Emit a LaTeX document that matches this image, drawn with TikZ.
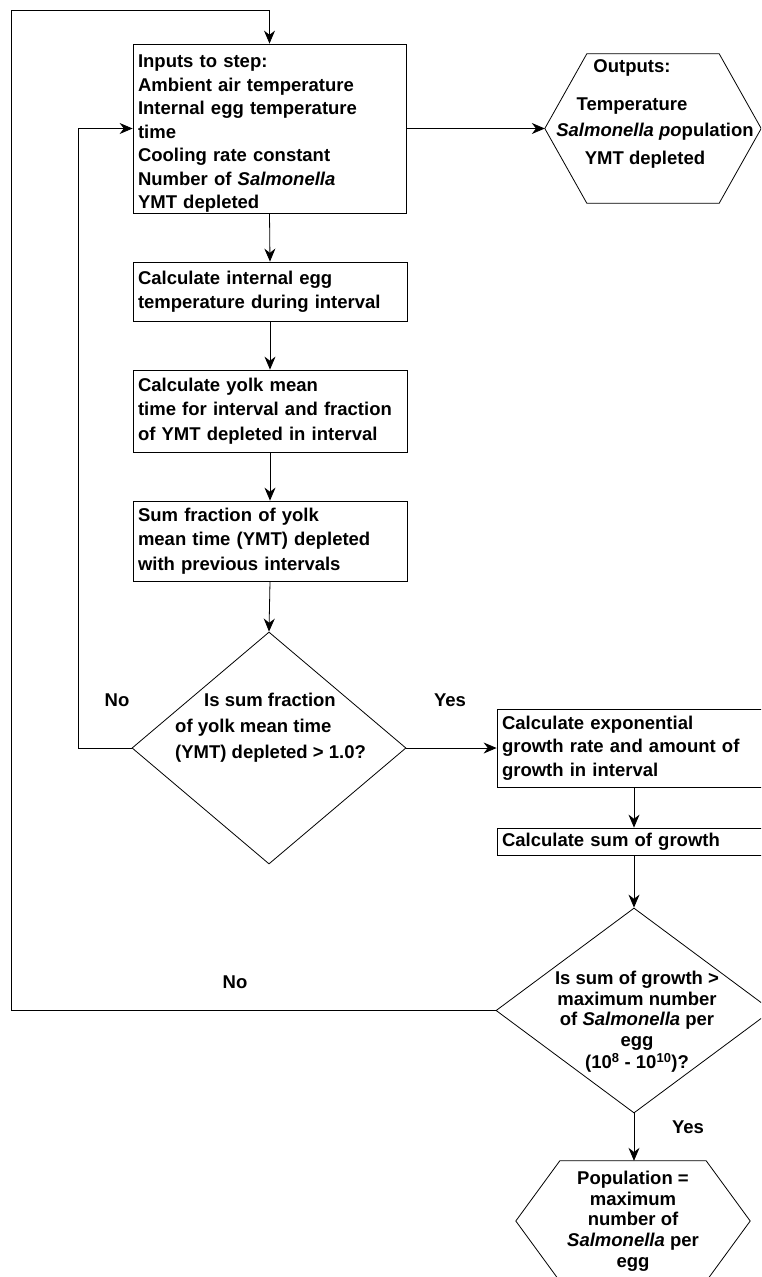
\documentclass[tikz,border=0pt]{standalone}
\usepackage{fontspec}
\setmainfont{Liberation Sans}
\usetikzlibrary{arrows.meta,shapes.geometric}
\begin{document}
\begin{tikzpicture}[x=1pt,y=-1pt,
  every node/.style={font=\fontsize{18.5}{23.5}\selectfont\bfseries, inner sep=0pt},
  stepbox/.style={draw, line width=0.8pt, inner xsep=5pt, align=left},
  decision/.style={draw, line width=0.8pt, diamond, inner sep=0pt},
  hexnode/.style={inner sep=0pt, align=center},
  hexline/.style={line width=0.8pt},
  arr/.style={line width=0.8pt, -{Stealth[length=13pt,width=11pt]}},
  lab/.style={}]
\useasboundingbox (0,0) rectangle (761,1277);
\clip (0,0) rectangle (761,1277);

% process boxes
\node[stepbox, minimum width=273, minimum height=169, text width=263] (b1) at (269.5,128.5)
  {\rule{0pt}{23pt}Inputs to step:\\Ambient air temperature\\Internal egg temperature\\time\\Cooling rate constant\\Number of \textit{Salmonella}\\YMT depleted};
\node[stepbox, minimum width=274, minimum height=59, text width=264, font=\fontsize{18.5}{24}\selectfont\bfseries] (b2) at (270,291.5)
  {Calculate internal egg\\temperature during interval};
\node[stepbox, minimum width=274, minimum height=82, text width=264, font=\fontsize{18.5}{24.5}\selectfont\bfseries] (b3) at (270,411)
  {Calculate yolk mean\\time for interval and fraction\\of YMT depleted in interval};
\node[stepbox, minimum width=274, minimum height=80, text width=264, font=\fontsize{18.5}{24.5}\selectfont\bfseries] (b4) at (270,541)
  {Sum fraction of yolk\\mean time (YMT) depleted\\with previous intervals};
\node[stepbox, minimum width=303, minimum height=78, text width=293] (b5) at (648.5,748)
  {Calculate exponential\\growth rate and amount of\\growth in interval};
\node[stepbox, minimum width=303, minimum height=27, text width=293] (b6) at (648.5,841.5)
  {Calculate sum of growth};

% decisions
\node[decision, minimum width=274, minimum height=232] (d1) at (269,748) {};
\node[align=left, anchor=west, font=\fontsize{18.5}{26}\selectfont\bfseries] (d1t) at (175,728)
  {\hspace*{29pt}Is sum fraction\\of yolk mean time\\(YMT) depleted > 1.0?};
\node[decision, minimum width=276, minimum height=205] (d2) at (634,1010.5) {};
\node[align=center, font=\fontsize{18.5}{20.5}\selectfont\bfseries] (d2t) at (637,1022)
  {Is sum of growth >\\maximum number\\of \textit{Salmonella} per\\egg\\[2pt](10\textsuperscript{8} - 10\textsuperscript{10})?};

% outputs hexagon
\node[hexnode, minimum width=216, minimum height=149] (outhex) at (653,128.5) {};
\draw[hexline] (outhex.west) -- ([xshift=42pt]outhex.north west) -- ([xshift=-42pt]outhex.north east)
  -- (outhex.east) -- ([xshift=-42pt]outhex.south east) -- ([xshift=42pt]outhex.south west) -- cycle;
\node (o1) at (632,68) {Outputs:};
\node (o2) at (632,106) {Temperature};
\node (o3) at (655,132) {\textit{Salmonella po}pulation};
\node (o4) at (645,160) {YMT depleted};

% final hexagon
\node[hexnode, minimum width=234, minimum height=120, font=\fontsize{18.5}{20.75}\selectfont\bfseries] (h3) at (633,1221)
  {Population =\\maximum\\number of\\\textit{Salmonella} per\\egg};
\draw[hexline] (h3.west) -- ([xshift=44pt]h3.north west) -- ([xshift=-44pt]h3.north east)
  -- (h3.east) -- ([xshift=-44pt]h3.south east) -- ([xshift=44pt]h3.south west) -- cycle;

% labels
\node[lab] (no1) at (117,700) {No};
\node[lab] (yes1) at (450,700) {Yes};
\node[lab] (no2) at (235,982) {No};
\node[lab] (yes2) at (688,1127) {Yes};

% connectors
\coordinate (tl) at (11,10);
\draw[arr] (d2.west) -| (tl) -| (b1.north);
\draw[arr] (b1.south) -- (b2.north);
\draw[arr] (b2.south) -- (b3.north);
\draw[arr] (b3.south) -- (b4.north);
\draw[arr] (b4.south) -- (d1.north);
\draw[arr] (b1.east) -- (outhex.west);
\draw[arr] (d1.west) -- ++(-53,0) |- (b1.west);
\draw[arr] (d1.east) -- (b5.west);
\draw[arr] (b5.south -| d2.north) -- (b6.north -| d2.north);
\draw[arr] (b6.south -| d2.north) -- (d2.north);
\draw[arr] (d2.south) -- (d2.south |- h3.north);
\end{tikzpicture}
\end{document}
